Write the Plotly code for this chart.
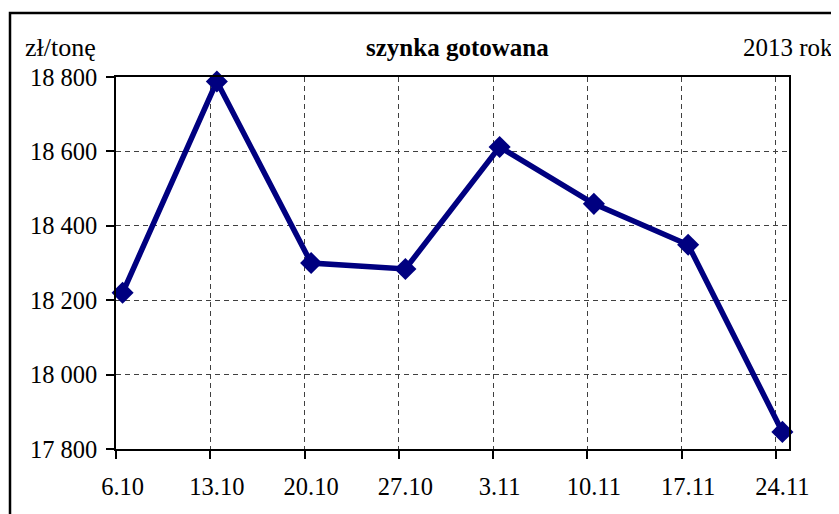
import plotly.graph_objects as go

categories = ["6.10", "13.10", "20.10", "27.10", "3.11", "10.11", "17.11", "24.11"]
prices = [18220, 18788, 18300, 18284, 18612, 18459, 18349, 17846]
y_ticks = [17800, 18000, 18200, 18400, 18600, 18800]
y_tick_labels = ["17 800", "18 000", "18 200", "18 400", "18 600", "18 800"]

FONT = "Liberation Serif"
TICK_SHIFT = 0.07  # category tick marks/grid sit slightly left of the data points (as in the original)
idx = list(range(len(categories)))
tick_pos = [i - TICK_SHIFT for i in idx]

fig = go.Figure()
fig.add_trace(go.Scatter(
    x=idx, y=prices, mode="lines+markers",
    line=dict(color="#000080", width=5.5),
    marker=dict(symbol="diamond", size=17, color="#000080"),
    showlegend=False, cliponaxis=False,
))

# page body has an 8px offset, so the figure is drawn 8px smaller with shifted margins
fig.update_layout(
    width=831, height=506,
    margin=dict(l=108, r=50, t=69, b=65),
    paper_bgcolor="white", plot_bgcolor="white",
    font=dict(family=FONT, size=24, color="black"),
    xaxis=dict(
        range=[-TICK_SHIFT, len(categories) - 1 + TICK_SHIFT],
        tickmode="array", tickvals=idx, ticktext=categories,
        showgrid=False,
        showline=True, linecolor="black", linewidth=1.5, mirror=True,
        ticks="outside", ticklen=8, tickcolor="rgba(0,0,0,0)", tickwidth=1.5,
        zeroline=False, tickfont=dict(family=FONT, size=24.5),
        ticklabelstandoff=7,
        minor=dict(
            tickmode="array", tickvals=tick_pos,
            ticks="outside", ticklen=8, tickcolor="black", tickwidth=1.5,
            showgrid=True, gridcolor="#404040", gridwidth=1, griddash="5px,4px",
        ),
    ),
    yaxis=dict(
        range=[17800, 18800], tickvals=y_ticks, ticktext=y_tick_labels,
        showgrid=True, gridcolor="#404040", gridwidth=1, griddash="5px,4px",
        showline=True, linecolor="black", linewidth=1.5, mirror=True,
        ticks="outside", ticklen=8, tickcolor="black", tickwidth=1.5,
        zeroline=False, tickfont=dict(family=FONT, size=24.5),
        ticklabelstandoff=4,
    ),
    shapes=[dict(
        type="rect", xref="paper", yref="paper",
        x0=-0.1575, x1=1.2, y0=-0.3, y1=1.172,
        line=dict(color="black", width=2.5), fillcolor="rgba(0,0,0,0)",
        layer="below",
    )],
    annotations=[
        dict(text="zł/tonę", xref="paper", yref="paper", x=-0.027, y=1.079,
             xanchor="right", yanchor="middle", showarrow=False,
             font=dict(family=FONT, size=26)),
        dict(text="<b>szynka gotowana</b>", xref="paper", yref="paper", x=0.507, y=1.079,
             xanchor="center", yanchor="middle", showarrow=False,
             font=dict(family=FONT, size=25)),
        dict(text="2013 rok", xref="paper", yref="paper", x=1.068, y=1.079,
             xanchor="right", yanchor="middle", showarrow=False,
             font=dict(family=FONT, size=25)),
    ],
)

fig.write_html("out.html")
